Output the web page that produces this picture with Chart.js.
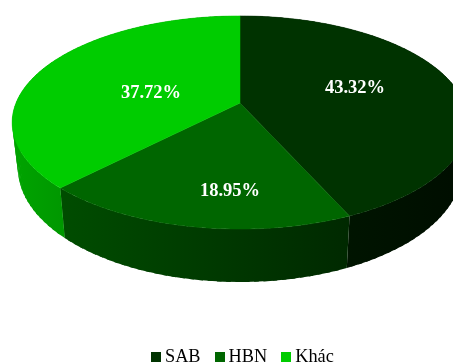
<!DOCTYPE html>
<html>
<head>
<meta charset="utf-8">
<title>Cơ cấu thị phần</title>
<script src="https://cdn.jsdelivr.net/npm/chart.js@4"></script>
<style>
  html, body { margin: 0; padding: 0; background: #fff; overflow: hidden; }
  #wrap { position: relative; width: 453px; height: 363px; overflow: hidden; }
  canvas { display: block; }
  #legend {
    position: absolute; left: 151px; top: 347px; height: 18px;
    display: flex; align-items: center;
    font: 18.3px/18px "Liberation Serif", serif; color: #000;
  }
  #legend span.item { display: flex; align-items: center; margin-right: 14px; }
  #legend i { display: block; width: 10px; height: 10px; margin: 2px 4px 0 0; }
</style>
</head>
<body>
<div id="wrap">
  <canvas id="pie" width="453" height="363"></canvas>
  <div id="legend"></div>
</div>
<script>
/* ================================================
   3D pie: share by company
================================================ */
const LABELS = ['SAB', 'HBN', 'Khác'];
const VALUES = [43.32, 18.95, 37.72];
const COLORS = ['#003300', '#006600', '#00cc00'];

// where each percentage is centred on the top face
const LABEL_X = [355, 230, 151];
const LABEL_Y = [88, 191, 93];

// tilted disc, near edge is bigger than far edge
const HUB_X = 240, HUB_Y = 103;
const RADIUS_X = 224, RADIUS_Y = 103, TILT = 0.183;
const STEP = Math.PI / 180;

function rim(angle) {
  const w = 1 - TILT * Math.sin(angle);
  return {
    x: HUB_X + RADIUS_X * Math.cos(angle) / w,
    y: HUB_Y + RADIUS_Y * Math.sin(angle) / w,
  };
}

// same rim point on the underside of the disc
function base(p) {
  return {
    x: HUB_X + (p.x - HUB_X) * 0.975,
    y: p.y + 50 + 0.07 * (p.y - 187),
  };
}

// side wall gets darker from left to right
function shade(hex, x) {
  const f = 0.82 - 0.0012 * x;
  const r = parseInt(hex.slice(1, 3), 16) * f;
  const g = parseInt(hex.slice(3, 5), 16) * f;
  const b = parseInt(hex.slice(5, 7), 16) * f;
  return `rgb(${Math.round(r)},${Math.round(g)},${Math.round(b)})`;
}

function arcPoints(arc) {
  const pts = [];
  for (let a = arc.startAngle; a < arc.endAngle; a += STEP) pts.push(rim(a));
  pts.push(rim(arc.endAngle));
  return pts;
}

// short overlapping quads, one big polygon would cancel out where the wall folds
function drawWall(ctx, arc, color) {
  const pts = arcPoints(arc);
  const grad = ctx.createLinearGradient(0, 0, 453, 0);
  grad.addColorStop(0, shade(color, 0));
  grad.addColorStop(1, shade(color, 453));
  ctx.fillStyle = grad;
  for (let i = 0; i < pts.length - 1; i += 2) {
    const p1 = pts[i];
    const p2 = pts[Math.min(i + 3, pts.length - 1)];
    const q1 = base(p1);
    const q2 = base(p2);
    ctx.beginPath();
    ctx.moveTo(p1.x, p1.y);
    ctx.lineTo(p2.x, p2.y);
    ctx.lineTo(q2.x, q2.y);
    ctx.lineTo(q1.x, q1.y);
    ctx.closePath();
    ctx.fill();
  }
}

function drawTop(ctx, arc, color) {
  ctx.fillStyle = color;
  ctx.strokeStyle = color;
  ctx.lineWidth = 0.5;
  ctx.beginPath();
  ctx.moveTo(HUB_X, HUB_Y);
  arcPoints(arc).forEach(p => ctx.lineTo(p.x, p.y));
  ctx.closePath();
  ctx.fill();
  ctx.stroke();
}

const disc3d = {
  id: 'disc3d',
  // replaces the flat arcs, angles still come from the pie controller
  beforeDatasetsDraw(chart) {
    const ctx = chart.ctx;
    const arcs = chart.getDatasetMeta(0).data;
    ctx.save();
    arcs.forEach(arc => drawWall(ctx, arc, arc.options.backgroundColor));
    arcs.forEach(arc => drawTop(ctx, arc, arc.options.backgroundColor));

    ctx.fillStyle = '#fff';
    ctx.font = 'bold 18.5px "Liberation Serif", serif';
    ctx.textAlign = 'center';
    ctx.textBaseline = 'middle';
    VALUES.forEach((v, i) => {
      ctx.fillText(v.toFixed(2) + '%', LABEL_X[i], LABEL_Y[i]);
    });
    ctx.restore();
    return false;
  },
};

const chart = new Chart(document.getElementById('pie'), {
  type: 'pie',
  data: {
    labels: LABELS,
    datasets: [{ data: VALUES, backgroundColor: COLORS, borderWidth: 0 }],
  },
  options: {
    responsive: false,
    animation: false,
    events: [],
    plugins: { legend: { display: false }, tooltip: { enabled: false } },
  },
  plugins: [disc3d],
});

document.getElementById('legend').innerHTML = chart.data.labels.map((name, i) =>
  `<span class="item"><i style="background:${COLORS[i]}"></i>${name}</span>`
).join('');
</script>
</body>
</html>
